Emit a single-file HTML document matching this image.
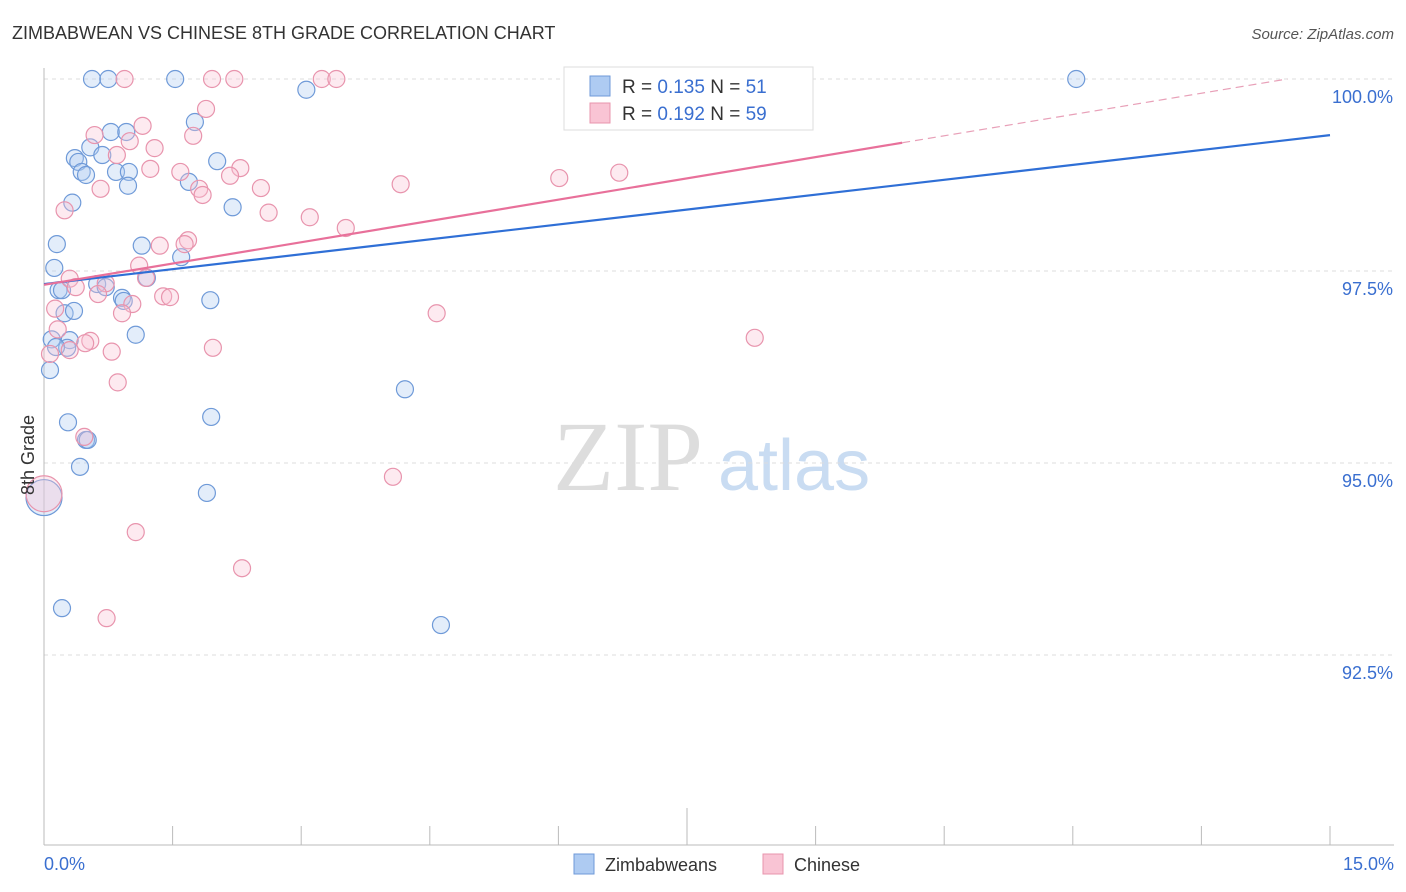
<!DOCTYPE html>
<html><head><meta charset="utf-8">
<style>
body{margin:0;background:#fff;width:1406px;height:892px;overflow:hidden;font-family:"Liberation Sans",sans-serif;}
svg{display:block}
</style></head>
<body>
<svg id="chart" width="1406" height="892">
<text x="12" y="39" font-size="18" fill="#333">ZIMBABWEAN VS CHINESE 8TH GRADE CORRELATION CHART</text>
<text x="1394" y="39" font-size="15" fill="#555" font-style="italic" text-anchor="end">Source: ZipAtlas.com</text>
<g>
<text x="553" y="490" font-size="100" font-family="Liberation Serif,serif" fill="#ddd">ZIP</text>
<text x="718" y="490" font-size="72" fill="#c9dcf2">atlas</text>
</g>
<g id="grid"></g>
<g id="axes"></g>
<g id="pts"></g>
<g id="trend"></g>
<text transform="translate(34,455) rotate(-90)" font-size="18" fill="#333" text-anchor="middle">8th Grade</text>
<g>
<rect x="564" y="67" width="249" height="63" fill="#fff" stroke="#ddd"/>
<rect x="590" y="76" width="20" height="20" fill="#aecbf2" stroke="#6f9ad8"/>
<rect x="590" y="103" width="20" height="20" fill="#f9c4d4" stroke="#e894ad"/>
<text x="622" y="93" font-size="19" fill="#333">R = <tspan fill="#3a6fd0">0.135</tspan>   N =  <tspan fill="#3a6fd0">51</tspan></text>
<text x="622" y="120" font-size="19" fill="#333">R = <tspan fill="#3a6fd0">0.192</tspan>   N = <tspan fill="#3a6fd0">59</tspan></text>
</g>
<g>
<rect x="574" y="854" width="20" height="20" fill="#aecbf2" stroke="#6f9ad8"/>
<text x="605" y="871" font-size="18" fill="#333">Zimbabweans</text>
<rect x="763" y="854" width="20" height="20" fill="#f9c4d4" stroke="#e894ad"/>
<text x="794" y="871" font-size="18" fill="#333">Chinese</text>
</g>
</svg>
<script>
const xTicks=[0,1.5,3,4.5,6,7.5,9,10.5,12,13.5,15];
const yTicks=[100,97.5,95,92.5];
const yTickLabels=["100.0%","97.5%","95.0%","92.5%"];
const blueX=[0.56,0.75,1.53,3.06,12.04,0.78,0.96,1.76,0.36,0.40,0.54,0.68,0.44,0.49,0.84,0.99,0.98,2.02,1.69,0.33,2.20,0.15,1.14,1.60,0.12,0.17,0.21,0.62,0.72,1.20,0.91,0.93,1.94,0.24,0.35,1.07,0.09,0.30,0.27,0.07,4.21,0.28,1.95,0.49,0.51,0.42,1.90,0.21,4.63,0.14];
const blueY=[100,100,100,99.86,100,99.31,99.31,99.44,98.97,98.92,99.11,99.01,98.79,98.75,98.79,98.79,98.61,98.93,98.66,98.39,98.33,97.85,97.83,97.68,97.54,97.25,97.25,97.33,97.29,97.41,97.15,97.11,97.12,96.95,96.98,96.67,96.61,96.60,96.50,96.21,95.96,95.53,95.60,95.30,95.30,94.95,94.61,93.11,92.89,96.51];
const pinkX=[0.94,1.96,2.22,3.24,3.41,1.89,1.15,0.59,1.74,1.00,1.29,0.85,2.29,1.24,1.59,2.17,1.81,1.85,0.66,2.53,4.16,6.01,6.71,0.24,2.62,3.10,3.52,1.68,1.35,1.64,1.11,0.30,1.19,0.72,0.37,0.63,1.39,1.47,0.13,1.03,0.91,4.58,0.16,0.54,0.48,0.30,0.07,0.79,1.97,8.29,0.86,0.47,4.07,1.07,2.31,0.73];
const pinkY=[100,100,100,100,100,99.61,99.39,99.27,99.26,99.19,99.10,99.01,98.84,98.83,98.79,98.74,98.57,98.49,98.57,98.58,98.63,98.71,98.78,98.29,98.26,98.20,98.06,97.90,97.83,97.85,97.57,97.40,97.41,97.34,97.29,97.20,97.17,97.16,97.01,97.07,96.95,96.95,96.74,96.59,96.56,96.47,96.42,96.45,96.50,96.63,96.05,95.34,94.82,94.10,93.63,92.98];
const bigX=[0,0];
const bigY=[94.55,94.6];
const blueTrend=[97.33,0.1293];
const pinkTrend=[97.32,0.1848];
const pinkSolidEnd=10.01;

const NS="http://www.w3.org/2000/svg";
const X=v=>44+v*(1286/15);
const Y=v=>79+(100-v)*76.8;
function mk(tag,attrs,parent){const e=document.createElementNS(NS,tag);for(const k in attrs)e.setAttribute(k,attrs[k]);document.getElementById(parent).appendChild(e);return e;}

yTicks.forEach((t,i)=>{
 const l=mk('line',{x1:44,x2:1394,y1:Y(t),y2:Y(t),stroke:'#ddd','stroke-dasharray':'4,4'},'grid');
 
 
 const tx=mk('text',{x:1393,y:Y(t)+24,'font-size':18,fill:'#3a6fd0','text-anchor':'end'},'grid');
 tx.textContent=yTickLabels[i];
 
 
});
const ax=mk('line',{x1:44,x2:1394,y1:845,y2:845,stroke:'#bbb'},'axes');


const ay=mk('line',{x1:44,x2:44,y1:68,y2:845,stroke:'#bbb'},'axes');


xTicks.forEach((t,i)=>{
 const tk=mk('line',{x1:X(t),x2:X(t),y1:i==5?808:826,y2:845,stroke:'#bbb'},'axes');
 
 
});
const xl0=mk('text',{x:44,y:870,'font-size':18,fill:'#3a6fd0'},'axes');xl0.textContent='0.0%';


const xl1=mk('text',{x:1394,y:870,'font-size':18,fill:'#3a6fd0','text-anchor':'end'},'axes');xl1.textContent='15.0%';



function dots(xs,ys,fill,stroke,name,r){
 xs.forEach((x,i)=>{
  const c=mk('circle',{cx:X(x),cy:Y(ys[i]),r:r,fill:fill,'fill-opacity':0.35,stroke:stroke,'stroke-width':1.2},'pts');
  
  
 });
}
dots(blueX,blueY,'#aecbf2','#6f9ad8','zimbabwean-point',8.5);
dots(pinkX,pinkY,'#f9c4d4','#e894ad','chinese-point',8.5);
dots([bigX[0]],[bigY[0]],'#aecbf2','#6f9ad8','zimbabwean-point-large',18);
dots([bigX[1]],[bigY[1]],'#f9c4d4','#e894ad','chinese-point-large',18);

const bt=mk('line',{x1:X(0),y1:Y(blueTrend[0]),x2:X(15),y2:Y(blueTrend[0]+15*blueTrend[1]),stroke:'#2f6fd6','stroke-width':2.2},'trend');


const pt=mk('line',{x1:X(0),y1:Y(pinkTrend[0]),x2:X(pinkSolidEnd),y2:Y(pinkTrend[0]+pinkSolidEnd*pinkTrend[1]),stroke:'#e8709a','stroke-width':2.2},'trend');


const xEnd=Math.min(15,(100-pinkTrend[0])/pinkTrend[1]);
const pd=mk('line',{x1:X(pinkSolidEnd),y1:Y(pinkTrend[0]+pinkSolidEnd*pinkTrend[1]),x2:X(xEnd),y2:Y(pinkTrend[0]+xEnd*pinkTrend[1]),stroke:'#e8a0b8','stroke-width':1.2,'stroke-dasharray':'8,5'},'trend');


</script>
</body></html>
